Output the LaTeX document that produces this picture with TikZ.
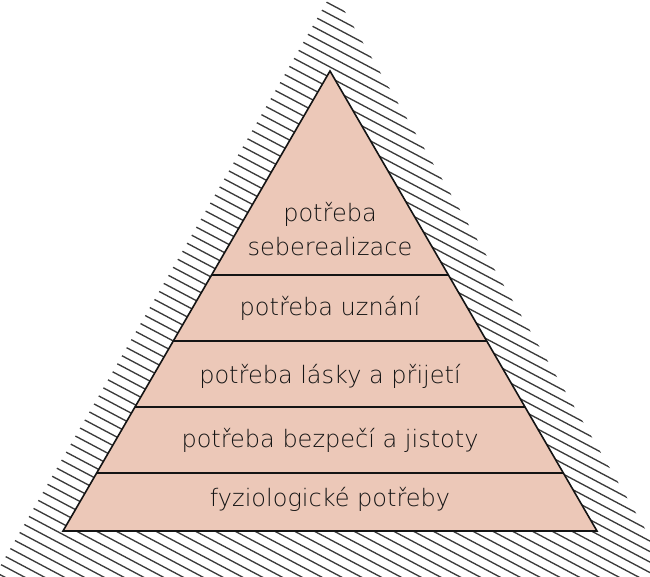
\documentclass[tikz,border=0pt]{standalone}
\usepackage{fontspec}
\newfontfamily\pyrfont{DejaVu Sans ExtraLight}
\usetikzlibrary{calc}

\definecolor{pyrfill}{RGB}{236,200,184}
\definecolor{pyrink}{RGB}{20,20,20}
\definecolor{hatchgray}{RGB}{60,60,60}

\begin{document}
\begin{tikzpicture}[x=1pt,y=-1pt,
    hatch/.style={hatchgray, line width=1.35pt, line cap=round},
    edge/.style={pyrink, line width=1.6pt, line join=miter},
    layer/.style={font=\pyrfont\fontsize{24}{34}\selectfont, text=pyrink, align=center, inner sep=0pt}]
  \useasboundingbox (0,0) rectangle (650,576);

  % hatched shadow behind the pyramid
  \begin{scope}
    \clip (0,0) rectangle (650,576);
    \clip (333,-9) -- (-31,620) -- (698,620) -- cycle;
    \foreach \c in {-360,-349.5,...,590}
      \draw [hatch] (-20,\c) -- (670,\c+365.7);
  \end{scope}

  % pyramid
  \coordinate (apex) at (330,71);
  \coordinate (bl) at (63,531);
  \coordinate (br) at (597,531);
  \fill [pyrfill] (apex) -- (bl) -- (br) -- cycle;
  \foreach \t in {0.4435,0.587,0.7304,0.8739}
    \draw [edge] ($(apex)!\t!(bl)$) -- ($(apex)!\t!(br)$);
  \draw [edge] (apex) -- (bl) -- (br) -- cycle;

  % levels
  \node [layer] (selfreal) at (330,229) {potřeba\\seberealizace};
  \node [layer, anchor=base] (esteem) at (330,315) {potřeba uznání};
  \node [layer, anchor=base] (love) at (330,383) {potřeba lásky a přijetí};
  \node [layer, anchor=base] (safety) at (330,447) {potřeba bezpečí a jistoty};
  \node [layer, anchor=base] (body) at (330,506) {fyziologické potřeby};
\end{tikzpicture}
\end{document}
